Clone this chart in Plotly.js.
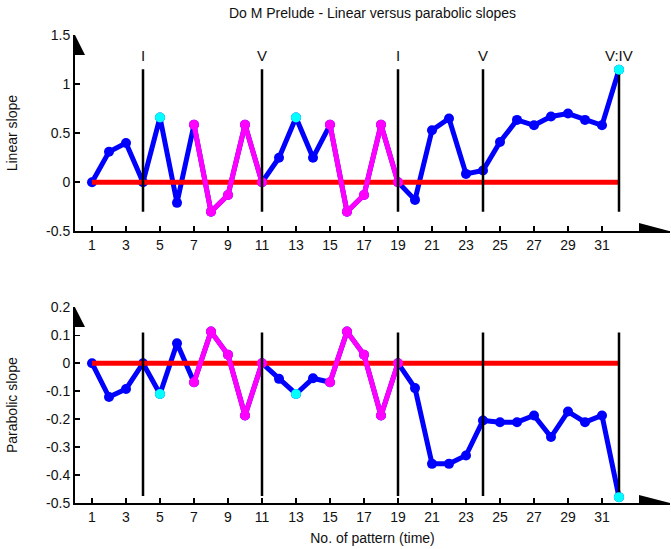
<!DOCTYPE html>
<html><head><meta charset="utf-8">
<script src="https://cdn.plot.ly/plotly-3.0.1.min.js"></script>
<style>html,body{margin:0;padding:0;background:#fff}#chart{width:671px;height:549px}</style>
</head><body><div id="chart"></div><script>
// ---- data ----
const patterns = [1,2,3,4,5,6,7,8,9,10,11,12,13,14,15,16,17,18,19,20,21,22,23,24,25,26,27,28,29,30,31,32];
const linearSlope = [0,0.31,0.40,0,0.66,-0.21,0.585,-0.30,-0.13,0.585,0,0.25,0.66,0.25,0.585,-0.30,-0.13,0.585,0,-0.18,0.53,0.65,0.085,0.12,0.41,0.635,0.58,0.67,0.70,0.635,0.58,1.146];
const parabolicSlope = [0,-0.121,-0.092,0,-0.11,0.071,-0.068,0.113,0.030,-0.187,0,-0.056,-0.11,-0.054,-0.068,0.113,0.030,-0.187,0,-0.089,-0.36,-0.36,-0.33,-0.205,-0.211,-0.211,-0.187,-0.264,-0.173,-0.211,-0.187,-0.479];
const magentaRanges = [[7,11],[15,19]];
const cyanPatterns = [5,13,32];
const sectionPatterns = [4,11,19,24,32];
const sectionLabels = ['I','V','I','V','V:IV'];
const sectionLabelY = 1.29;
const topSectionSpan = [-0.3, 1.15];
const bottomSectionSpan = [-0.475, 0.11];
const xTickVals = [1,3,5,7,9,11,13,15,17,19,21,23,25,27,29,31];
const linTickVals = [-0.5,0,0.5,1,1.5];
const linTickText = ['-0.5','0','0.5','1','1.5'];
const parTickVals = [-0.5,-0.4,-0.3,-0.2,-0.1,0,0.1,0.2];
const parTickText = ['-0.5','-0.4','-0.3','-0.2','-0.1','0','0.1','0.2'];

const BLUE = '#0000ff', MAG = '#ff00ff', CYAN = '#00ffff', RED = '#ff0000';
const FONT = 'Liberation Sans, Arial, sans-serif';
const TXT = '#111';

function buildTraces(vals, xa, ya, span) {
  const tr = [];
  tr.push({x: patterns, y: vals, xaxis: xa, yaxis: ya, mode: 'lines+markers',
    line: {color: BLUE, width: 5}, marker: {color: BLUE, size: 10}, hoverinfo: 'skip'});
  tr.push({x: [patterns[0], patterns[patterns.length-1]], y: [0, 0], xaxis: xa, yaxis: ya, mode: 'lines',
    line: {color: RED, width: 5}, hoverinfo: 'skip'});
  magentaRanges.forEach(r => {
    const xs = [], ys = [];
    patterns.forEach((p, i) => { if (p >= r[0] && p <= r[1]) { xs.push(p); ys.push(vals[i]); } });
    tr.push({x: xs, y: ys, xaxis: xa, yaxis: ya, mode: 'lines+markers',
      line: {color: MAG, width: 5}, marker: {color: MAG, size: 10}, hoverinfo: 'skip'});
  });
  sectionPatterns.forEach(p => {
    tr.push({x: [p, p], y: span, xaxis: xa, yaxis: ya, mode: 'lines',
      line: {color: '#000', width: 2.5}, hoverinfo: 'skip'});
  });
  const cx = [], cy = [];
  patterns.forEach((p, i) => { if (cyanPatterns.includes(p)) { cx.push(p); cy.push(vals[i]); } });
  tr.push({x: cx, y: cy, xaxis: xa, yaxis: ya, mode: 'markers',
    marker: {color: CYAN, size: 10}, hoverinfo: 'skip'});
  return tr;
}

const traces = buildTraces(linearSlope, 'x', 'y', topSectionSpan)
  .concat(buildTraces(parabolicSlope, 'x2', 'y2', bottomSectionSpan));

// pixel helpers for decorative arrowheads
const W = 671, H = 549, ML = 75, MR = 1, MT = 35, MB = 46;
const PW = W - ML - MR, PH = H - MT - MB;
const px = v => (v - ML) / PW;
const py = v => (H - MB - v) / PH;
function tri(pts) {
  return {type: 'path', xref: 'paper', yref: 'paper', fillcolor: '#000', line: {width: 0},
    path: 'M' + pts.map(p => px(p[0]) + ',' + py(p[1])).join(' L') + ' Z'};
}
const topDom = [py(231.3), 1];
const botDom = [0, py(307.3)];

const axX = {range: [0, 35], tickvals: xTickVals, ticks: 'inside', ticklen: 5, tickwidth: 1.5,
  tickcolor: '#000', showline: true, linecolor: '#000', linewidth: 2, showgrid: false, zeroline: false,
  tickfont: {family: FONT, size: 14, color: TXT}};

const annotations = sectionPatterns.map((p, i) => ({x: p, y: sectionLabelY, xref: 'x', yref: 'y',
  text: sectionLabels[i], showarrow: false, font: {family: FONT, size: 15, color: TXT}}));

const layout = {
  width: W, height: H, margin: {l: ML, r: MR, t: MT, b: MB},
  paper_bgcolor: '#fff', plot_bgcolor: '#fff', showlegend: false,
  title: {text: 'Do M Prelude - Linear versus parabolic slopes', font: {family: FONT, size: 14, color: TXT},
    x: 372.5 / W, xanchor: 'center', y: 1 - 13 / H, yanchor: 'middle', yref: 'container'},
  xaxis: Object.assign({}, axX, {anchor: 'y', domain: [0, 1]}),
  xaxis2: Object.assign({}, axX, {anchor: 'y2', domain: [0, 1],
    title: {text: 'No. of pattern (time)', font: {family: FONT, size: 14, color: TXT}, standoff: 9}}),
  yaxis: {domain: topDom, range: [-0.5, 1.5], tickvals: linTickVals, ticktext: linTickText, anchor: 'x',
    ticks: 'inside', ticklen: 5, tickwidth: 1.5, tickcolor: '#000', showline: true, linecolor: '#000',
    linewidth: 2, showgrid: false, zeroline: false, tickfont: {family: FONT, size: 14, color: TXT},
    title: {text: 'Linear slope', font: {family: FONT, size: 14, color: TXT}, standoff: 25}},
  yaxis2: {domain: botDom, range: [-0.5, 0.2], tickvals: parTickVals, ticktext: parTickText, anchor: 'x2',
    ticks: 'inside', ticklen: 5, tickwidth: 1.5, tickcolor: '#000', showline: true, linecolor: '#000',
    linewidth: 2, showgrid: false, zeroline: false, tickfont: {family: FONT, size: 14, color: TXT},
    title: {text: 'Parabolic slope', font: {family: FONT, size: 14, color: TXT}, standoff: 25}},
  annotations: annotations,
  shapes: [
    tri([[75, 35], [85, 55], [75, 55]]),
    tri([[639, 223], [670, 231.3], [639, 231.3]]),
    tri([[75, 307.3], [85, 327], [75, 327]]),
    tri([[639, 495], [670, 503], [639, 503]])
  ]
};

Plotly.newPlot('chart', traces, layout, {staticPlot: true, displayModeBar: false});
</script></body></html>
